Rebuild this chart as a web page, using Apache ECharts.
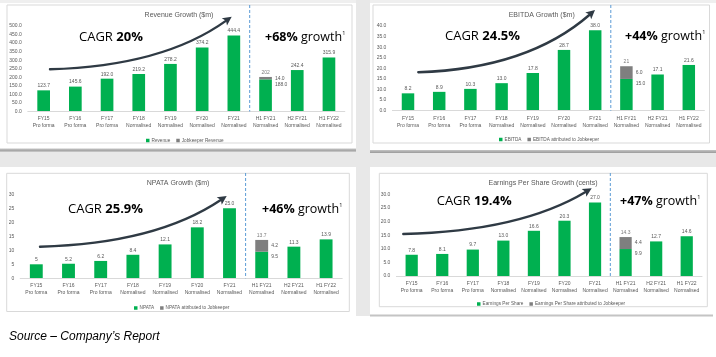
<!DOCTYPE html>
<html><head><meta charset="utf-8">
<script src="https://cdn.jsdelivr.net/npm/echarts@6/dist/echarts.min.js"></script>
<style>html,body{margin:0;padding:0;background:#fff}#c{width:716px;height:357px}</style>
</head><body><div id="c"></div>
<script>
// ---------- DATA ----------
const categories = ['FY15\nPro forma','FY16\nPro forma','FY17\nPro forma','FY18\nNormalised','FY19\nNormalised','FY20\nNormalised','FY21\nNormalised','H1 FY21\nNormalised','H2 FY21\nNormalised','H1 FY22\nNormalised'];

const revenue          = [123.7,145.6,192.0,219.2,278.2,374.2,444.4,188.0,242.4,315.9];
const revenueJobkeeper = ['-','-','-','-','-','-','-',14.0,'-','-'];
const revenueTotal     = ['-','-','-','-','-','-','-',202,'-','-'];
const revenueLabels    = ['123.7','145.6','192.0','219.2','278.2','374.2','444.4','188.0','242.4','315.9'];

const ebitda          = [8.2,8.9,10.3,13.0,17.8,28.7,38.0,15.0,17.1,21.6];
const ebitdaJobkeeper = ['-','-','-','-','-','-','-',6.0,'-','-'];
const ebitdaTotal     = ['-','-','-','-','-','-','-',21,'-','-'];
const ebitdaLabels    = ['8.2','8.9','10.3','13.0','17.8','28.7','38.0','15.0','17.1','21.6'];

const npata          = [5,5.2,6.2,8.4,12.1,18.2,25.0,9.5,11.3,13.9];
const npataJobkeeper = ['-','-','-','-','-','-','-',4.2,'-','-'];
const npataTotal     = ['-','-','-','-','-','-','-',13.7,'-','-'];
const npataLabels    = ['5','5.2','6.2','8.4','12.1','18.2','25.0','9.5','11.3','13.9'];

const eps          = [7.8,8.1,9.7,13.0,16.6,20.3,27.0,9.9,12.7,14.6];
const epsJobkeeper = ['-','-','-','-','-','-','-',4.4,'-','-'];
const epsTotal     = ['-','-','-','-','-','-','-',14.3,'-','-'];
const epsLabels    = ['7.8','8.1','9.7','13.0','16.6','20.3','27.0','9.9','12.7','14.6'];

const revenueTicks = {max:500, interval:50, decimals:1};
const ebitdaTicks  = {max:40,  interval:5,  decimals:1};
const npataTicks   = {max:30,  interval:5,  decimals:0};
const epsTicks     = {max:30,  interval:5,  decimals:1};

// ---------- LAYOUT ----------
const GREEN = '#00B050', GREY = '#7F7F7F', TXT = '#595959';
const FONT = 'Liberation Sans';

const panels = [
  {title:'Revenue Growth ($m)', titlePos:[179,15], main:revenue, job:revenueJobkeeper, total:revenueTotal, labels:revenueLabels, ticks:revenueTicks,
   names:['Revenue','Jobkeeper Revenue'], grid:{left:27.8, top:26, width:317, height:85.5}, dashTop:5,
   legend:{left:141, top:133}, cagr:'20%', cagrPos:[79,37.7], growth:'+68%', growthPos:[265,37.7],
   arrow:{s:[50,69.3], t:[231.7,16.7]}, box:[7,5,345,138]},
  {title:'EBITDA Growth ($m)', titlePos:[541.7,15], main:ebitda, job:ebitdaJobkeeper, total:ebitdaTotal, labels:ebitdaLabels, ticks:ebitdaTicks,
   names:['EBITDA','EBITDA attributed to Jobkeeper'], grid:{left:392.4, top:26, width:312, height:84.7}, dashTop:5,
   legend:{left:494, top:132}, cagr:'24.5%', cagrPos:[445,36], growth:'+44%', growthPos:[625,36],
   arrow:{s:[418.3,72.3], t:[595,10]}, box:[373,5,336.5,138]},
  {title:'NPATA Growth ($m)', titlePos:[178,183.3], main:npata, job:npataJobkeeper, total:npataTotal, labels:npataLabels, ticks:npataTicks,
   names:['NPATA','NPATA attributed to Jobkeeper'], grid:{left:20.2, top:194.3, width:322, height:84}, dashTop:173,
   legend:{left:129, top:300.5}, cagr:'25.9%', cagrPos:[68,209.3], growth:'+46%', growthPos:[262,209.3],
   arrow:{s:[40,246.7], t:[226.7,196]}, box:[6.7,173.3,342.6,138.2]},
  {title:'Earnings Per Share Growth (cents)', titlePos:[543,183.3], main:eps, job:epsJobkeeper, total:epsTotal, labels:epsLabels, ticks:epsTicks,
   names:['Earnings Per Share','Earnings Per Share attributed to Jobkeeper'], grid:{left:396.4, top:194.3, width:305.6, height:81.7}, dashTop:173,
   legend:{left:472, top:296.5}, cagr:'19.4%', cagrPos:[436.7,201], growth:'+47%', growthPos:[620,201],
   arrow:{s:[403.3,234], t:[591.7,188.3]}, box:[379.3,173.3,328,133.4]}
];

const grids = [], xAxes = [], yAxes = [], series = [], legends = [], graphics = [];

// backgrounds
const BG = '#e8e8e8';
const shadow = () => new echarts.graphic.LinearGradient(0,0,0,1,[{offset:0,color:'#c4c4c4'},{offset:1,color:'#9a9a9a'}]);
graphics.push(
  {type:'rect', shape:{x:0,y:0,width:716,height:3}, style:{fill:'#efefef'}, z:-20},
  {type:'rect', shape:{x:356,y:0,width:14,height:316}, style:{fill:BG}, z:-20},
  {type:'rect', shape:{x:0,y:151,width:716,height:16}, style:{fill:BG}, z:-20},
  {type:'rect', shape:{x:0,y:148.5,width:356,height:3}, style:{fill:shadow()}, z:-19},
  {type:'rect', shape:{x:370,y:150,width:346,height:3}, style:{fill:shadow()}, z:-19},
  {type:'rect', shape:{x:370,y:314.5,width:343,height:2}, style:{fill:'#c4c4c4'}, z:-19},
  {type:'text', x:9, y:337, style:{text:'Source – Company’s Report', font:'italic 12px "Liberation Sans"', fill:'#000', textVerticalAlign:'middle'}, z:5}
);

panels.forEach((p,k)=>{
  const g = p.grid;
  graphics.push({type:'rect', shape:{x:p.box[0], y:p.box[1], width:p.box[2], height:p.box[3]}, style:{fill:'#fff', stroke:'#d9d9d9', lineWidth:1}, z:-18});
  grids.push({left:g.left, top:g.top, width:g.width, height:g.height, containLabel:false});
  xAxes.push({type:'category', gridIndex:k, data:categories, z:10,
    axisLine:{lineStyle:{color:'#d9d9d9', width:1}}, axisTick:{show:false},
    axisLabel:{fontSize:5, lineHeight:7, color:TXT, fontFamily:FONT, margin:4, interval:0}});
  yAxes.push({type:'value', gridIndex:k, min:0, max:p.ticks.max, interval:p.ticks.interval, z:10,
    splitLine:{show:false}, axisLine:{show:false}, axisTick:{show:false},
    axisLabel:{fontSize:5, color:TXT, fontFamily:FONT, margin:6, formatter:v=>v.toFixed(p.ticks.decimals)}});
  const labs = p.labels;
  series.push({
    name:p.names[0], type:'bar', xAxisIndex:k, yAxisIndex:k, stack:'s'+k, barWidth:'40%',
    itemStyle:{color:GREEN},
    data:p.main.map((v,i)=> i===7 ? {value:v, label:{position:['100%',0], align:'left', verticalAlign:'top', offset:[3,2.5]}} : v),
    label:{show:true, position:'top', distance:2, fontSize:5, color:TXT, fontFamily:FONT, formatter:o=>labs[o.dataIndex]}
  });
  series.push({
    name:p.names[1], type:'bar', xAxisIndex:k, yAxisIndex:k, stack:'s'+k, barWidth:'40%',
    itemStyle:{color:GREY}, data:p.job,
    label:{show:true, position:'right', distance:3, fontSize:5, color:TXT, fontFamily:FONT, formatter:o=>Number(o.value).toFixed(1)}
  });
  series.push({
    name:'total'+k, type:'scatter', xAxisIndex:k, yAxisIndex:k, symbolSize:0, data:p.total, silent:true,
    label:{show:true, position:'top', distance:2, fontSize:5, color:TXT, fontFamily:FONT, formatter:o=>String(o.value)}
  });
  legends.push({data:p.names, left:p.legend.left, top:p.legend.top, icon:'rect', itemWidth:3.5, itemHeight:3.5, itemGap:6,
    textStyle:{fontSize:4.7, color:TXT, fontFamily:FONT, padding:[0,0,0,-3]}, selectedMode:false});

  // title
  graphics.push({type:'text', x:p.titlePos[0], y:p.titlePos[1], z:20,
    style:{text:p.title, font:'7px "Liberation Sans"', fill:TXT, textAlign:'center', textVerticalAlign:'middle'}});
  // dashed divider
  const dx = g.left + g.width*0.7;
  graphics.push({type:'line', z:20, shape:{x1:dx, y1:p.dashTop, x2:dx, y2:g.top+g.height}, style:{stroke:'#5B9BD5', lineWidth:1, lineDash:[3,2]}});
  // CAGR text
  graphics.push({type:'text', x:p.cagrPos[0], y:p.cagrPos[1], z:20,
    style:{text:'{a|CAGR }{b|'+p.cagr+'}', textVerticalAlign:'middle',
      rich:{a:{fontSize:13, fontFamily:'Open Sans', color:'#404040'}, b:{fontSize:13, fontFamily:'Open Sans', fontWeight:'bold', color:'#262626'}}}});
  graphics.push({type:'text', x:p.growthPos[0], y:p.growthPos[1], z:20,
    style:{text:'{b|'+p.growth+'}{a| growth}{s|1}', textVerticalAlign:'middle',
      rich:{a:{fontSize:12.5, fontFamily:'Open Sans', color:'#404040'}, b:{fontSize:12.5, fontFamily:'Open Sans', fontWeight:'bold', color:'#262626'}, s:{fontSize:5.5, fontFamily:'Open Sans', color:'#404040', verticalAlign:'top', padding:[0,0,8,0]}}}});
  // arrow
  const S = p.arrow.s, T = p.arrow.t;
  const C = [S[0] + 0.62*(T[0]-S[0]), S[1] - 0.06*(S[1]-T[1])];
  let ux = T[0]-C[0], uy = T[1]-C[1]; const L = Math.hypot(ux,uy); ux/=L; uy/=L;
  const headLen = 9, headW = 4.5;
  const E = [T[0]-ux*headLen*0.8, T[1]-uy*headLen*0.8];
  const B = [T[0]-ux*headLen, T[1]-uy*headLen];
  graphics.push({type:'bezierCurve', z:30, shape:{x1:S[0], y1:S[1], x2:E[0], y2:E[1], cpx1:C[0], cpy1:C[1]},
    style:{stroke:'#2f3a44', lineWidth:2.4, fill:null, lineCap:'round'}});
  graphics.push({type:'polygon', z:30, shape:{points:[[T[0],T[1]],[B[0]-uy*headW, B[1]+ux*headW],[B[0]+ux*2, B[1]+uy*2],[B[0]+uy*headW, B[1]-ux*headW]]},
    style:{fill:'#2f3a44'}});
});

const chart = echarts.init(document.getElementById('c'), null, {renderer:'canvas'});
chart.setOption({
  animation:false, backgroundColor:'#fff',
  textStyle:{fontFamily:FONT},
  grid:grids, xAxis:xAxes, yAxis:yAxes, series:series, legend:legends, graphic:graphics
});
</script></body></html>
